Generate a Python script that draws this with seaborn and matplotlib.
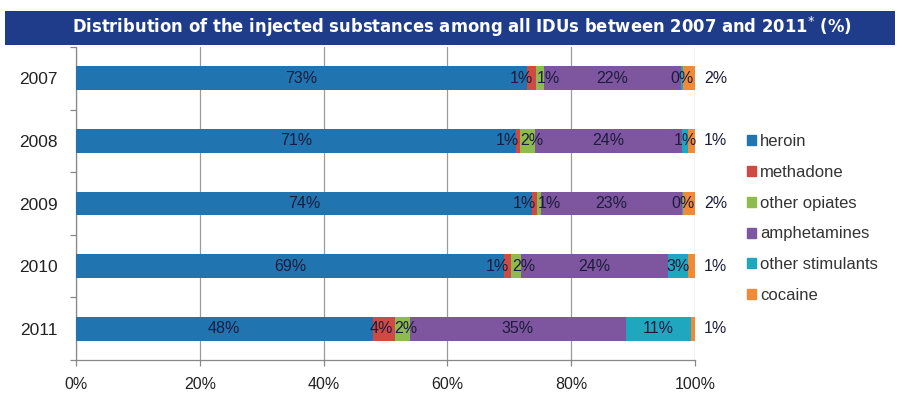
import matplotlib
matplotlib.use("Agg")
import matplotlib.pyplot as plt
from matplotlib.patches import Rectangle
import seaborn as sns
import pandas as pd
import numpy as np

years = ["2007", "2008", "2009", "2010", "2011"]
substances = ["heroin", "methadone", "other opiates", "amphetamines",
              "other stimulants", "cocaine"]
heroin = [72.9, 71.1, 73.7, 69.1, 47.9]
methadone = [1.4, 0.6, 0.8, 1.2, 3.7]
other_opiates = [1.3, 2.4, 0.6, 1.6, 2.4]
amphetamines = [22.1, 23.8, 22.8, 23.7, 34.8]
other_stimulants = [0.4, 1.0, 0.2, 3.3, 10.6]
cocaine = [1.9, 1.1, 1.9, 1.1, 0.6]
x_ticks = [0, 20, 40, 60, 80, 100]
x_tick_labels = ["0%", "20%", "40%", "60%", "80%", "100%"]

colors = ["#2074B0", "#CF4A42", "#8DBB4E", "#7E56A0", "#1FA7C0", "#F18A37"]
title = "Distribution of the injected substances among all IDUs between 2007 and 2011$^{*}$ (%)"

df = pd.DataFrame({"year": years, "heroin": heroin, "methadone": methadone,
                   "other opiates": other_opiates, "amphetamines": amphetamines,
                   "other stimulants": other_stimulants, "cocaine": cocaine})
cum = df[substances].cumsum(axis=1)

sns.set_theme(style="white")
plt.rcParams["font.family"] = ["Liberation Sans", "DejaVu Sans"]

fig = plt.figure(figsize=(9.02, 3.93), dpi=100)
ax = fig.add_axes([76 / 902, 1 - 360 / 393, (695 - 76) / 902, (360 - 47) / 393])

# Stacked bars: draw cumulative totals from the outermost segment inwards
for sub, col in reversed(list(zip(substances, colors))):
    sns.barplot(x=cum[sub], y=df["year"], color=col, orient="h", width=0.38,
                saturation=1, ax=ax, zorder=3, linewidth=0)

# Segment labels; methadone/opiate labels are pushed apart so they stay legible
text_color = "#1C1C3C"
for i in range(len(years)):
    left = 0.0
    narrow = df.loc[i, "methadone"] < 2
    for sub in substances:
        v = df.loc[i, sub]
        label = f"{int(round(v))}%"
        ha = "center"
        xpos = left + v / 2
        if sub == "cocaine":
            xpos = 103.3
        elif sub == "methadone":
            if narrow:
                ha, xpos = "right", left + v / 2 + 0.2
            else:
                xpos -= 0.5
        elif sub == "other opiates":
            if narrow:
                ha, xpos = "left", left + 0.1
            else:
                xpos += 0.5
        ax.text(xpos, i, label, ha=ha, va="center", fontsize=11.5,
                color=text_color, zorder=5)
        left += v

ax.set_xlim(0, 100)
ax.set_ylim(4.5, -0.5)
ax.set_xticks(x_ticks)
ax.set_xticklabels(x_tick_labels, fontsize=11.5, color="#222222")
ax.set_yticks(range(len(years)))
ax.set_yticklabels(years, fontsize=12.5, color="#222222")
ax.set_xlabel("")
ax.set_ylabel("")
ax.xaxis.grid(True, color="#9A9A9A", linewidth=0.9, zorder=0)
ax.yaxis.grid(False)
for s in ["top", "right"]:
    ax.spines[s].set_visible(False)
for s in ["left", "bottom"]:
    ax.spines[s].set_color("#888888")
    ax.spines[s].set_linewidth(0.9)
ax.tick_params(axis="x", which="major", bottom=True, length=4, width=0.9,
               color="#888888", pad=8)
ax.tick_params(axis="y", which="major", left=False, pad=7)
ax.set_yticks(np.arange(-0.5, 5, 1), minor=True)
ax.tick_params(axis="y", which="minor", left=True, length=4, width=0.9,
               color="#888888")
ax.set_axisbelow(True)

# Legend
handles = [plt.Rectangle((0, 0), 1, 1, color=c) for c in colors]
fig.legend(handles, substances, loc="upper left",
           bbox_to_anchor=(732 / 902, 1 - 119 / 393), frameon=False,
           fontsize=12, handlelength=0.55, handleheight=0.55,
           handletextpad=0.25, labelspacing=0.95, labelcolor="#333333")

# Title band
fig.patches.append(Rectangle((5 / 902, 1 - 45 / 393), 890 / 902, 34 / 393,
                             transform=fig.transFigure, facecolor="#1E3C8A",
                             edgecolor="none", zorder=0))
ttl = fig.text(462 / 902, 1 - 27 / 393, title, ha="center", va="center",
               color="white", fontsize=13.5, fontweight="bold",
               fontstretch="condensed", family=["DejaVu Sans"])
# Keep the heading within its band width
renderer = fig.canvas.get_renderer()
w = ttl.get_window_extent(renderer).width
if w > 780:
    ttl.set_fontsize(13.5 * 780 / w)

fig.savefig("out.png", dpi=100)
